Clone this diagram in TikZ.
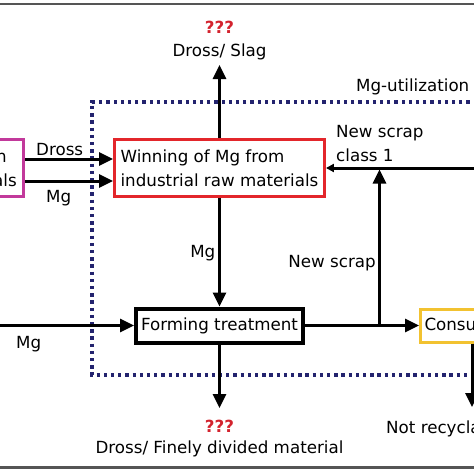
\documentclass[tikz,border=0pt]{standalone}
\usepackage{fontspec}
\setmainfont{DejaVu Sans}
\usetikzlibrary{arrows.meta}

\definecolor{boxred}{HTML}{E3262B}
\definecolor{boxmagenta}{HTML}{C2399B}
\definecolor{boxyellow}{HTML}{F2C230}
\definecolor{askred}{HTML}{D3232E}
\definecolor{zonenavy}{HTML}{23236E}
\definecolor{framegray}{HTML}{555555}

\begin{document}
\begin{tikzpicture}[x=1pt,y=-1pt,
    font=\fontsize{16.7}{24}\selectfont,
    stage/.style={draw,line width=3.3pt,inner sep=4pt},
    flow/.style={line width=3pt,-{Triangle[length=14pt,width=13pt]}},
    thin flow/.style={line width=3pt,-{Triangle[length=8pt,width=8pt]}},
    txt/.style={inner sep=0pt},
    ask/.style={txt,text=askred,font=\fontsize{16.7}{20}\selectfont\bfseries}]
    \useasboundingbox (0,0) rectangle (474,474);
    \clip (0,0) rectangle (474,474);

    % frame lines
    \draw[framegray,line width=2.2pt] (-5,4) -- (480,4);
    \draw[framegray,line width=2.5pt] (-5,467.5) -- (480,467.5);

    % Mg-utilization zone
    \draw[zonenavy,line width=3.3pt,dash pattern=on 3.3pt off 3.9pt] (520,102) -| (92,375) -- (520,375);
    \node[txt,anchor=base west] (zone) at (356,91.5) {Mg-utilization};

    % stages
    \node[stage,draw=boxmagenta,line width=3pt,minimum width=120,minimum height=57,anchor=east] (primary) at (25,168) {};
    \node[txt,anchor=base east] (primtop) at (7,162.5) {n};
    \node[txt,anchor=base east] (primbot) at (17,186.5) {als};
    \node[stage,draw=boxred,minimum width=209.6,minimum height=56.6,align=left] (winning) at (219.5,168) {Winning of Mg from\\industrial raw materials};
    \node[stage,line width=4pt,minimum width=167,minimum height=34] (forming) at (219.5,325.5) {Forming treatment};
    \node[stage,draw=boxyellow,line width=3pt,minimum height=33,inner xsep=4pt,anchor=west] (consum) at (419,325.5) {Consumption};

    % free ends
    \coordinate (slagtip) at (219.5,65);
    \coordinate (finetip) at (219.5,408);
    \coordinate (rectip) at (472,407);
    \coordinate (mgin) at (-10,325.5);
    \coordinate (scrapin) at (480,168);
    \coordinate (scrapfork) at (379.5,325.5);
    \coordinate (scrapjoin) at (379.5,169.5);

    % flows
    \draw[flow] ([yshift=9pt]primary.east) -- ([yshift=9pt]winning.west);
    \draw[flow] ([yshift=-13pt]primary.east) -- ([yshift=-13pt]winning.west);
    \draw[flow] (winning.north) -- (slagtip);
    \draw[flow] (winning.south) -- (forming.north);
    \draw[flow] (mgin) -- (forming.west);
    \draw[flow] (forming.east) -- (consum.west);
    \draw[flow] (scrapfork) -- (scrapjoin);
    \draw[thin flow] (scrapin) -- (winning.east);
    \draw[flow] (forming.south) -- (finetip);
    \draw[flow] (consum.south -| rectip) -- (rectip);

    % labels
    \node[ask,anchor=base] (asktop) at (219.5,33) {???};
    \node[txt,anchor=base] (slag) at (219.5,56) {Dross/ Slag};
    \node[txt,anchor=base west] (drosslbl) at (36,155) {Dross};
    \node[txt,anchor=base west] (mgprim) at (46,202) {Mg};
    \node[txt,anchor=base west,align=left] (scrapone) at (336,161) {New scrap\\class 1};
    \node[txt,anchor=base east] (scraplbl) at (376,267) {New scrap};
    \node[txt,anchor=base east] (mgdown) at (215.5,257) {Mg};
    \node[txt,anchor=base west] (mgleft) at (16,348.5) {Mg};
    \node[ask,anchor=base] (askbot) at (219.5,432) {???};
    \node[txt,anchor=base] (fine) at (219.5,453) {Dross/ Finely divided material};
    \node[txt,anchor=base west] (notrec) at (386,433) {Not recyclable};
\end{tikzpicture}
\end{document}
